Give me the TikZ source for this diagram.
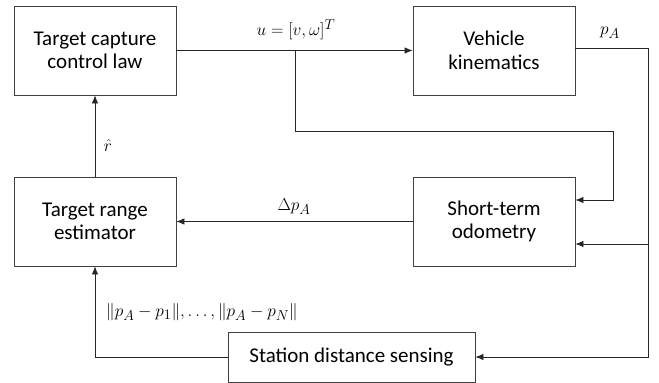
\documentclass[tikz,border=0pt]{standalone}
\usepackage{fontspec}
\setmainfont{Carlito}
\usepackage{amsmath}
\usepackage{tikz}
\usetikzlibrary{arrows.meta}

\begin{document}
\begin{tikzpicture}
            [every node/.style={inner sep=0pt},
             block/.style={rectangle, minimum width=162pt, minimum height=89pt, line width=0.8pt, draw=black!75, fill=white, align=center, font=\fontsize{21}{23.5}\selectfont},
             flow/.style={line width=0.8pt, ->, color=black!85},
             lbl/.style={font=\fontsize{19}{22}\selectfont},
             >={Latex[length=8pt,width=6.5pt]}]
                \useasboundingbox (0pt, 0pt) rectangle (659pt, -383pt);
                \node (1) [block] at (95pt, -50.5pt) {Target capture\\control law};
                \node (2) [block] at (494pt, -50.5pt) {Vehicle\\kinematics};
                \node (3) [block] at (95pt, -221.5pt) {Target range\\estimator};
                \node (4) [block] at (494pt, -221.5pt) {Short-term\\odometry};
                \node (5) [block, minimum width=247pt, minimum height=50pt] at (351.5pt, -357pt) {Station distance sensing};
                \coordinate (ub) at (295pt, -50.5pt);
                \coordinate (uc) at (613pt, -131pt);
                \coordinate (pr) at (648pt, -357pt);
                \coordinate (pb) at (648pt, -244pt);
                \draw [flow] (1) to (2);
                \draw [flow] (ub) |- (uc) |- ([yshift=21.5pt]4.east);
                \draw [flow] ([yshift=2.5pt]2.east) -| (pr) -- (5.east);
                \draw [flow] (pb) -- (pb -| 4.east);
                \draw [flow] (4) to (3);
                \draw [flow] (5.west) -| (3.south);
                \draw [flow] (3) to (1);
                \node [lbl] at (296pt, -30pt) {$u = [v, \omega]^T$};
                \node [lbl] at (610pt, -33pt) {$p_A$};
                \node [lbl] at (294pt, -207pt) {$\Delta p_A$};
                \node [lbl] at (108pt, -145pt) {$\hat{r}$};
                \node [lbl] at (202pt, -312pt) {$\lVert p_A - p_1\rVert, \dots, \lVert p_A - p_N\rVert$};
            \end{tikzpicture}
\end{document}
